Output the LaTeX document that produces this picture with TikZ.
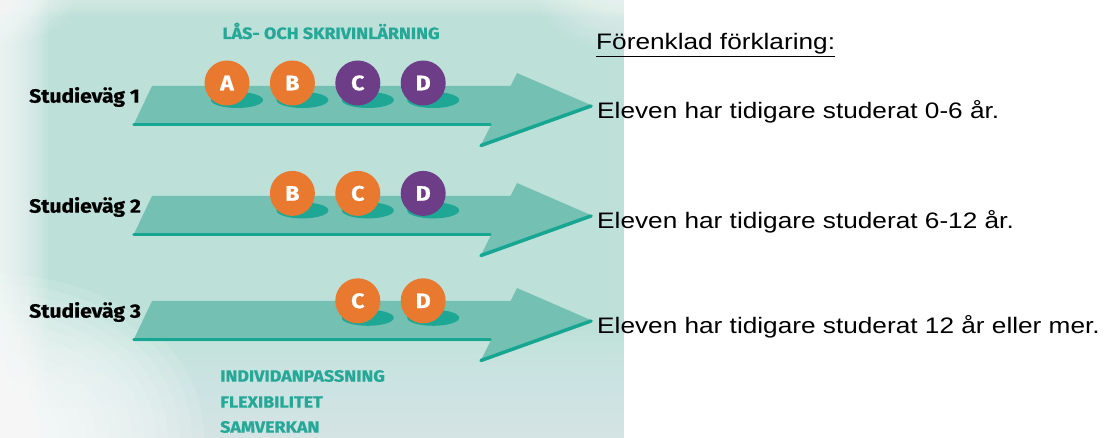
\documentclass[tikz,border=0pt]{standalone}
\usepackage{fontspec}
\newfontfamily\arialfont{Liberation Sans}[FakeStretch=1.17]
\newfontfamily\headfont{Fira Sans}[FakeStretch=1.1,FakeBold=0.8]
\usetikzlibrary{positioning,backgrounds}
\definecolor{panelteal}{HTML}{BDE0D9}
\definecolor{lanefill}{HTML}{74C1B3}
\definecolor{stripeteal}{HTML}{16A692}
\definecolor{spotteal}{HTML}{1FA795}
\definecolor{ballorange}{HTML}{E8792F}
\definecolor{ballpurple}{HTML}{6D3E87}
\definecolor{tagteal}{HTML}{25A897}
\tikzset{ball/.style={circle,minimum size=45pt,inner sep=0pt,text=white,font=\headfont\bfseries\fontsize{21}{21}\selectfont},
  way/.style={anchor=west,inner sep=0pt,font=\headfont\bfseries\fontsize{19.2}{19.2}\selectfont},
  tag/.style={inner sep=0pt,text=tagteal,font=\headfont\bfseries\fontsize{16.3}{16.3}\selectfont},
  expl/.style={anchor=west,inner sep=0pt,font=\arialfont\fontsize{22.4}{22.4}\selectfont},
  lane/.style={fill=lanefill},
  stripe/.style={draw=stripeteal,line width=3.5pt,line cap=round},
  spot/.style={fill=spotteal},
  haze/.style={fill=white,opacity=#1},haze/.default=0.06}

\begin{document}
\begin{tikzpicture}[x=1pt,y=-1pt]
\useasboundingbox (0,0) rectangle (1111,438);
% the letters on each way
\node[ball,fill=ballorange] (a1) at (227,83) {A};
\node[ball,fill=ballorange,right=20pt of a1] (b1) {B};
\node[ball,fill=ballpurple,right=20pt of b1] (c1) {C};
\node[ball,fill=ballpurple,right=20pt of c1] (d1) {D};
\node[ball,fill=ballorange,below=65pt of b1] (b2) {B};
\node[ball,fill=ballorange,right=20pt of b2] (c2) {C};
\node[ball,fill=ballpurple,right=20pt of c2] (d2) {D};
\node[ball,fill=ballorange,below=62pt of c2] (c3) {C};
\node[ball,fill=ballorange,right=20pt of c3] (d3) {D};
% texts
\node[tag] (title) at (331,31) {LÅS- OCH SKRIVINLÄRNING};
\node[way] (way1) at (29,97) {Studieväg 1};
\node[way] (way2) at (29,207) {Studieväg 2};
\node[way] (way3) at (29,312) {Studieväg 3};
\node[tag,anchor=west] (indiv) at (220,376) {INDIVIDANPASSNING};
\node[tag,anchor=west] (flex) at (220,402) {FLEXIBILITET};
\node[tag,anchor=west] (samv) at (220,427) {SAMVERKAN};
\node[expl] (head) at (596,45) {\underline{Förenklad förklaring:}};
\node[expl] (expl1) at (597,112) {Eleven har tidigare studerat 0-6 år.};
\node[expl] (expl2) at (597,222) {Eleven har tidigare studerat 6-12 år.};
\node[expl] (expl3) at (597,327) {Eleven har tidigare studerat 12 år eller mer.};
\begin{scope}[on background layer]
% the panel behind the ways, lighter towards its edges
\fill[panelteal] (0,0) rectangle (624,438);
\foreach \w in {3,6,...,48} \fill[haze=0.08] (0,0) rectangle (\w,438);
\foreach \h in {6,12,...,110} \fill[haze=0.035] (0,438-\h) rectangle (624,438);
\foreach \h in {2,4,...,16} \fill[haze=0.05] (0,0) rectangle (624,\h);
\foreach \r in {12,24,...,204} \fill[haze=0.11] (0,438) ellipse [x radius=\r pt,y radius=0.8*\r pt];
\foreach \r in {6,12,...,72} \fill[haze=0.08] (0,0) ellipse [x radius=\r pt,y radius=0.6*\r pt];
\foreach \r in {6,12,...,84} \fill[haze=0.06] (624,0) ellipse [x radius=\r pt,y radius=0.6*\r pt];
% the three ways
\fill[lane] (152,86) -- (510.5,86) -- (517,73) -- (593,106) -- (480,147) -- (490.5,126) -- (133,126) -- cycle;
\fill[lane] (152,196) -- (510.5,196) -- (517,183) -- (593,216) -- (480,257) -- (490.5,236) -- (133,236) -- cycle;
\fill[lane] (152,301) -- (510.5,301) -- (517,288) -- (593,321) -- (480,362) -- (490.5,341) -- (133,341) -- cycle;
\draw[stripe] (134,124.5) -- (490,124.5);
\draw[stripe] (481,145.5) -- (591,106);
\draw[stripe] (134,234.5) -- (490,234.5);
\draw[stripe] (481,255.5) -- (591,216);
\draw[stripe] (134,339.5) -- (490,339.5);
\draw[stripe] (481,360.5) -- (591,321);
% shadows under the letters
\fill[spot] ([shift={(10,17)}]a1) ellipse [x radius=26pt,y radius=8pt];
\fill[spot] ([shift={(10,17)}]b1) ellipse [x radius=26pt,y radius=8pt];
\fill[spot] ([shift={(10,17)}]c1) ellipse [x radius=26pt,y radius=8pt];
\fill[spot] ([shift={(10,17)}]d1) ellipse [x radius=26pt,y radius=8pt];
\fill[spot] ([shift={(10,17)}]b2) ellipse [x radius=26pt,y radius=8pt];
\fill[spot] ([shift={(10,17)}]c2) ellipse [x radius=26pt,y radius=8pt];
\fill[spot] ([shift={(10,17)}]d2) ellipse [x radius=26pt,y radius=8pt];
\fill[spot] ([shift={(10,17)}]c3) ellipse [x radius=26pt,y radius=8pt];
\fill[spot] ([shift={(10,17)}]d3) ellipse [x radius=26pt,y radius=8pt];
\end{scope}
\end{tikzpicture}
\end{document}
